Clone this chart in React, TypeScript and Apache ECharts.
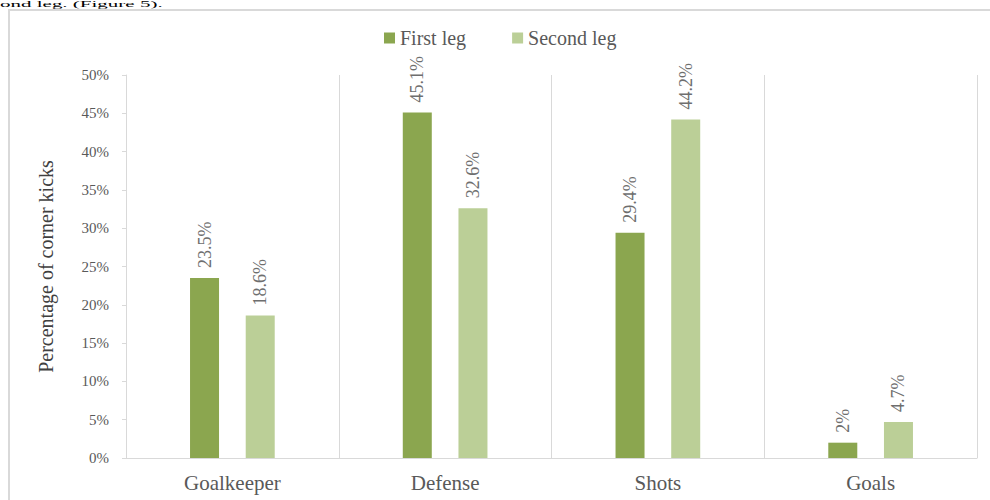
import React, { useEffect, useRef } from "react";
import * as echarts from "echarts";

const categories = ["Goalkeeper", "Defense", "Shots", "Goals"];
const firstLeg = [23.5, 45.1, 29.4, 2];
const secondLeg = [18.6, 32.6, 44.2, 4.7];
const seriesNames = ["First leg", "Second leg"];
const yAxisName = "Percentage of corner kicks";
const topText = "ond leg. (Figure 5).";

const SERIF = "'Liberation Serif', 'Times New Roman', serif";

export default function App() {
  const ref = useRef<HTMLDivElement>(null);
  useEffect(() => {
    document.body.style.margin = "0";
    if (!ref.current) return;
    const chart = echarts.init(ref.current, null, { renderer: "svg" });
    const labelCfg = {
      show: true,
      position: "top",
      rotate: 90,
      align: "left",
      verticalAlign: "middle",
      distance: 10,
      formatter: "{c}%",
      color: "#6e6e6e",
      fontFamily: SERIF,
      fontSize: 18,
    };
    chart.setOption({
      animation: false,
      backgroundColor: "#ffffff",
      graphic: [
        {
          type: "text",
          x: 0,
          y: 0,
          scaleX: 1.05,
          scaleY: 0.42,
          style: {
            text: topText,
            fill: "#000",
            font: `20px ${SERIF}`,
            verticalAlign: "top",
          },
        },
        {
          type: "rect",
          shape: { x: 9, y: 10, width: 1000, height: 600 },
          style: { fill: "none", stroke: "#d9d9d9", lineWidth: 2 },
          silent: true,
          z: -1,
        },
      ],
      legend: {
        top: 23,
        left: 379,
        itemWidth: 11,
        itemHeight: 11,
        itemGap: 46,
        icon: "rect",
        textStyle: { fontFamily: SERIF, fontSize: 20, color: "#595959" },
        data: seriesNames,
      },
      grid: { left: 126, right: 13, top: 75, bottom: 42, containLabel: false },
      xAxis: {
        type: "category",
        data: categories,
        axisLine: { show: true, lineStyle: { color: "#d9d9d9", width: 1 } },
        axisTick: { show: false },
        splitLine: { show: true, lineStyle: { color: "#d9d9d9", width: 1 } },
        axisLabel: {
          fontFamily: SERIF,
          fontSize: 21,
          color: "#595959",
          margin: 14,
        },
      },
      yAxis: {
        type: "value",
        min: 0,
        max: 50,
        interval: 5,
        name: yAxisName,
        nameLocation: "middle",
        nameGap: 70,
        nameTextStyle: { fontFamily: SERIF, fontSize: 20, color: "#404040" },
        axisLine: { show: true, lineStyle: { color: "#d9d9d9" } },
        axisTick: { show: true, length: 4, lineStyle: { color: "#d9d9d9" } },
        splitLine: { show: false },
        axisLabel: {
          formatter: "{value}%",
          fontFamily: SERIF,
          fontSize: 15,
          color: "#595959",
          margin: 17,
        },
      },
      series: [
        {
          name: seriesNames[0],
          type: "bar",
          data: firstLeg,
          barWidth: 29,
          barGap: "92%",
          itemStyle: { color: "#8ba64f" },
          label: labelCfg,
        },
        {
          name: seriesNames[1],
          type: "bar",
          data: secondLeg,
          barWidth: 29,
          itemStyle: { color: "#bbcf97" },
          label: labelCfg,
        },
      ],
    });
    return () => chart.dispose();
  }, []);
  return <div ref={ref} style={{ width: 990, height: 500 }} />;
}
